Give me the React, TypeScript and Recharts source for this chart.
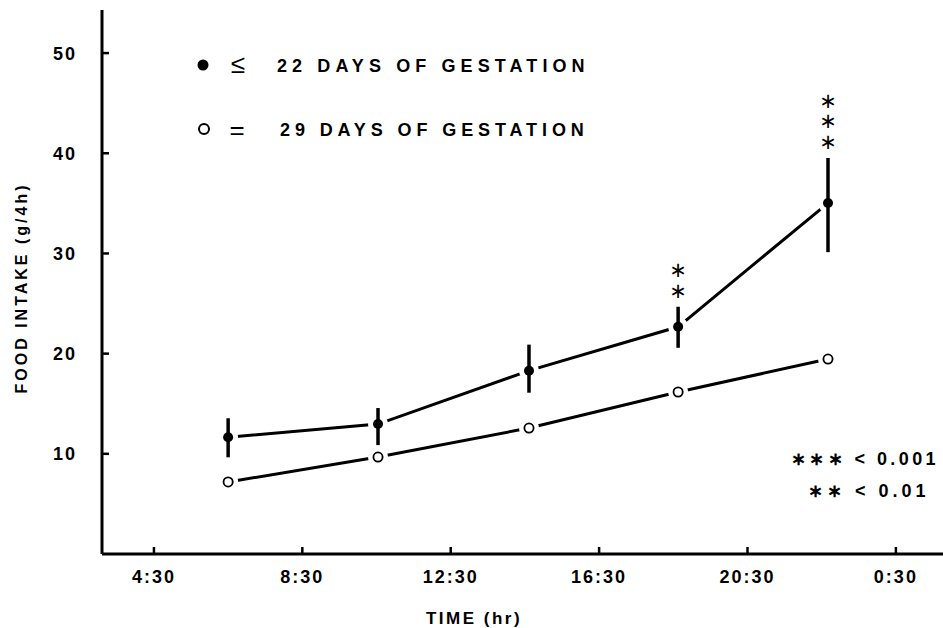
import React from "react";
import { ComposedChart, Line, Scatter, XAxis, YAxis, ErrorBar } from "recharts";

// time of day in hours (0:30 next day = 24.5)
const times = [6.5, 10.54, 14.61, 18.63, 22.67];
const earlyGestation = [11.65, 12.97, 18.3, 22.68, 35.03]; // <= 22 days, filled
const lateGestation = [7.19, 9.68, 12.57, 16.17, 19.46]; // = 29 days, open
const earlyErr: [number, number][] = [
  [2.0, 1.9],
  [2.1, 1.6],
  [2.2, 2.6],
  [2.1, 2.0],
  [4.9, 4.5],
];
const significance = [0, 0, 0, 2, 3]; // number of asterisks

const xTicks = [4.5, 8.5, 12.5, 16.5, 20.5, 24.5];
const xTickLabels = ["4:30", "8:30", "12:30", "16:30", "20:30", "0:30"];
const yTicks = [10, 20, 30, 40, 50];

const data = times.map((x, i) => ({
  x,
  early: earlyGestation[i],
  late: lateGestation[i],
  err: earlyErr[i],
  top: earlyGestation[i] + earlyErr[i][1],
  sig: significance[i],
}));

const FONT = '"Liberation Sans", Arial, Helvetica, sans-serif';

const XTick = (props: any) => {
  const { x, y, payload } = props;
  const i = xTicks.indexOf(payload.value);
  return (
    <g>
      <line x1={x} x2={x} y1={y} y2={y - 7} stroke="#000" strokeWidth={2.5} />
      <text x={x} y={y + 29} textAnchor="middle" fontFamily={FONT} fontWeight="bold" fontSize={18} letterSpacing={2} fill="#000">
        {xTickLabels[i]}
      </text>
    </g>
  );
};

const YTick = (props: any) => {
  const { x, y, payload } = props;
  return (
    <g>
      <line x1={x} x2={x + 7} y1={y} y2={y} stroke="#000" strokeWidth={2.5} />
      <text x={x - 25} y={y + 6.5} textAnchor="end" fontFamily={FONT} fontWeight="bold" fontSize={18} letterSpacing={2} fill="#000">
        {payload.value}
      </text>
    </g>
  );
};

// white gap round each point, leaving a narrow slot so the error bar stays whole
const Halo = (props: any) => {
  const { cx, cy } = props;
  const r = 10;
  const s = 2.5;
  const h = Math.sqrt(r * r - s * s);
  const d =
    `M${cx - s},${cy - h} A${r},${r} 0 0 0 ${cx - s},${cy + h} Z ` +
    `M${cx + s},${cy - h} A${r},${r} 0 0 1 ${cx + s},${cy + h} Z`;
  return <path d={d} fill="#fff" />;
};
const FilledDot = (props: any) => <circle cx={props.cx} cy={props.cy} r={5} fill="#000" />;
const OpenDot = (props: any) => (
  <circle cx={props.cx} cy={props.cy} r={4.6} fill="#fff" stroke="#000" strokeWidth={1.8} />
);
const Stars = (props: any) => {
  const { cx, cy, payload } = props;
  if (!payload.sig) return <g />;
  return (
    <text x={cx} y={cy - 16} textAnchor="middle" dominantBaseline="central" fontFamily="DejaVu Sans" fontSize={21} fill="#000">
      {Array.from({ length: payload.sig }).map((_, k) => (
        <tspan key={k} x={cx} y={cy - 16 - k * 20.5}>
          ∗
        </tspan>
      ))}
    </text>
  );
};

export default function App() {
  const txt = { fontFamily: FONT, fontWeight: "bold" as const, fill: "#000" };
  return (
    <div style={{ position: "absolute", left: 0, top: 0, width: 943, height: 628, background: "#fff" }}>
      <ComposedChart width={943} height={628} data={data} margin={{ top: 10, right: 0, bottom: 30, left: 42 }}>
        <XAxis
          dataKey="x"
          type="number"
          domain={[3.1, 25.77]}
          ticks={xTicks}
          allowDataOverflow
          axisLine={{ stroke: "#000", strokeWidth: 3 }}
          tickLine={false}
          tickSize={0}
          tickMargin={0}
          tick={<XTick />}
          height={44}
        />
        <YAxis
          type="number"
          domain={[0, 54.3]}
          ticks={yTicks}
          allowDataOverflow
          axisLine={{ stroke: "#000", strokeWidth: 3 }}
          tickLine={false}
          tickSize={0}
          tickMargin={0}
          tick={<YTick />}
          width={60}
        />
        <Line type="linear" dataKey="early" stroke="#000" strokeWidth={3} dot={false} isAnimationActive={false} />
        <Line type="linear" dataKey="late" stroke="#000" strokeWidth={3} dot={false} isAnimationActive={false} />
        <Scatter dataKey="early" shape={Halo} isAnimationActive={false} />
        <Scatter dataKey="late" shape={Halo} isAnimationActive={false} />
        <Scatter dataKey="early" shape={FilledDot} isAnimationActive={false}>
          <ErrorBar dataKey="err" direction="y" width={0} stroke="#000" strokeWidth={3.5} />
        </Scatter>
        <Scatter dataKey="late" shape={OpenDot} isAnimationActive={false} />
        <Scatter dataKey="top" shape={Stars} isAnimationActive={false} />
      </ComposedChart>
      <svg width={943} height={628} style={{ position: "absolute", left: 0, top: 0, pointerEvents: "none" }}>
        <text {...txt} x={21} y={288} fontSize={16} letterSpacing={3} textAnchor="middle" dominantBaseline="central" transform="rotate(-90, 21, 288)">
          FOOD INTAKE (g/4h)
        </text>
        <text {...txt} x={474} y={624} fontSize={17} letterSpacing={2.5} textAnchor="middle">
          TIME (hr)
        </text>
        <circle cx={203} cy={65} r={5.5} fill="#000" />
        <text {...txt} x={238} y={73} fontSize={26} fontWeight="normal" textAnchor="middle">≤</text>
        <text {...txt} x={277} y={72} fontSize={18} letterSpacing={5.1}>22 DAYS OF GESTATION</text>
        <circle cx={204} cy={129} r={5} fill="#fff" stroke="#000" strokeWidth={2} />
        <text {...txt} x={237} y={139} fontSize={26} fontWeight="normal" textAnchor="middle">=</text>
        <text {...txt} x={280} y={136} fontSize={18} letterSpacing={4.9}>29 DAYS OF GESTATION</text>
        <text {...txt} x={791} y={465} fontSize={18} letterSpacing={3.4}>∗∗∗ &lt; 0.001</text>
        <text {...txt} x={808} y={497} fontSize={18} letterSpacing={4}>∗∗ &lt; 0.01</text>
      </svg>
    </div>
  );
}
